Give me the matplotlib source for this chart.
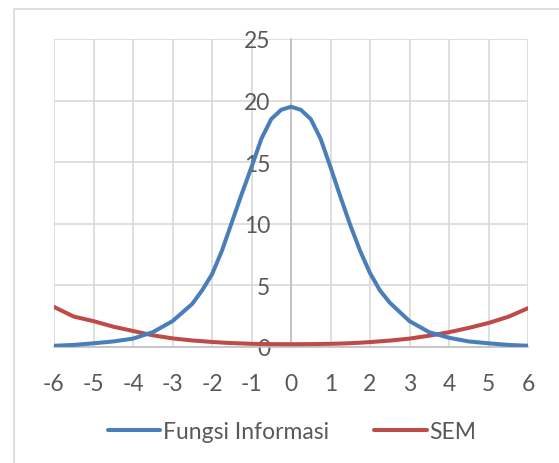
import numpy as np
import matplotlib
matplotlib.use("Agg")
import matplotlib.pyplot as plt
from matplotlib.patches import Rectangle

# values
theta = [-6, -5.5, -5, -4.5, -4, -3.5, -3,
         -2.5, -2.25, -2, -1.75, -1.5, -1.25, -1, -0.75, -0.5, -0.25, 0,
         0.25, 0.5, 0.75, 1, 1.25, 1.5, 1.75, 2, 2.25, 2.5,
         3, 3.5, 4, 4.5, 5, 5.5, 6]
fungsi_informasi = [0.1, 0.17, 0.3, 0.45, 0.68, 1.2, 2.1,
                    3.5, 4.6, 5.9, 7.8, 10.1, 12.4, 14.6, 16.9, 18.5, 19.25, 19.5,
                    19.25, 18.5, 16.9, 14.6, 12.2, 9.9, 7.8, 6.0, 4.6, 3.6,
                    2.1, 1.2, 0.75, 0.45, 0.3, 0.17, 0.1]
sem = [3.25, 2.47, 2.1, 1.65, 1.3, 0.95, 0.7,
       0.53, 0.47, 0.41, 0.36, 0.32, 0.29, 0.26, 0.245, 0.235, 0.228, 0.226,
       0.228, 0.235, 0.245, 0.26, 0.28, 0.31, 0.35, 0.4, 0.46, 0.52,
       0.68, 0.92, 1.2, 1.55, 1.95, 2.45, 3.15]
x_ticks = list(range(-6, 7))
y_ticks = [0, 5, 10, 15, 20, 25]

W, H = 559, 464
plt.rcParams['font.family'] = ['Lato', 'DejaVu Sans']
plt.rcParams['axes.unicode_minus'] = False
fig = plt.figure(figsize=(W / 100, H / 100), dpi=100)

# chart border (cropped on right/bottom like the reference)
fig.patches.append(Rectangle((14 / W, -0.1), 2, 1 - 10 / H + 0.1, transform=fig.transFigure,
                             fill=False, edgecolor='#d9d9d9', linewidth=1.2))

ax = fig.add_axes([54 / W, 1 - 348 / H, (528 - 54) / W, (348 - 40) / H])
ax.set_xlim(-6, 6)
ax.set_ylim(0, 25)

ax.plot(theta, fungsi_informasi, color='#4a7ebb', linewidth=2.9, label='Fungsi Informasi',
        solid_capstyle='round', solid_joinstyle='round', zorder=4)
ax.plot(theta, sem, color='#be4b48', linewidth=2.9, label='SEM',
        solid_capstyle='round', solid_joinstyle='round', zorder=3)

ax.set_xticks(x_ticks)
ax.set_yticks(y_ticks)
ax.grid(True, color='#d9d9d9', linewidth=1.2)
ax.set_axisbelow(True)

for s in ['top', 'right']:
    ax.spines[s].set_visible(False)
ax.spines['left'].set_position(('data', 0))
ax.spines['left'].set_color('#bfbfbf')
ax.spines['left'].set_linewidth(1.2)
ax.spines['bottom'].set_color('#bfbfbf')
ax.spines['bottom'].set_linewidth(1.2)
ax.tick_params(length=0, labelsize=16.5, labelcolor='#595959')
ax.tick_params(axis='x', pad=19)
ax.tick_params(axis='y', pad=15)

fig.legend(loc='center', bbox_to_anchor=(292 / W, 1 - 433 / H), ncol=2, frameon=False,
           fontsize=16.5, labelcolor='#595959', handlelength=2.3, handletextpad=0.1,
           columnspacing=2.0)

fig.savefig('out.png', dpi=100)
